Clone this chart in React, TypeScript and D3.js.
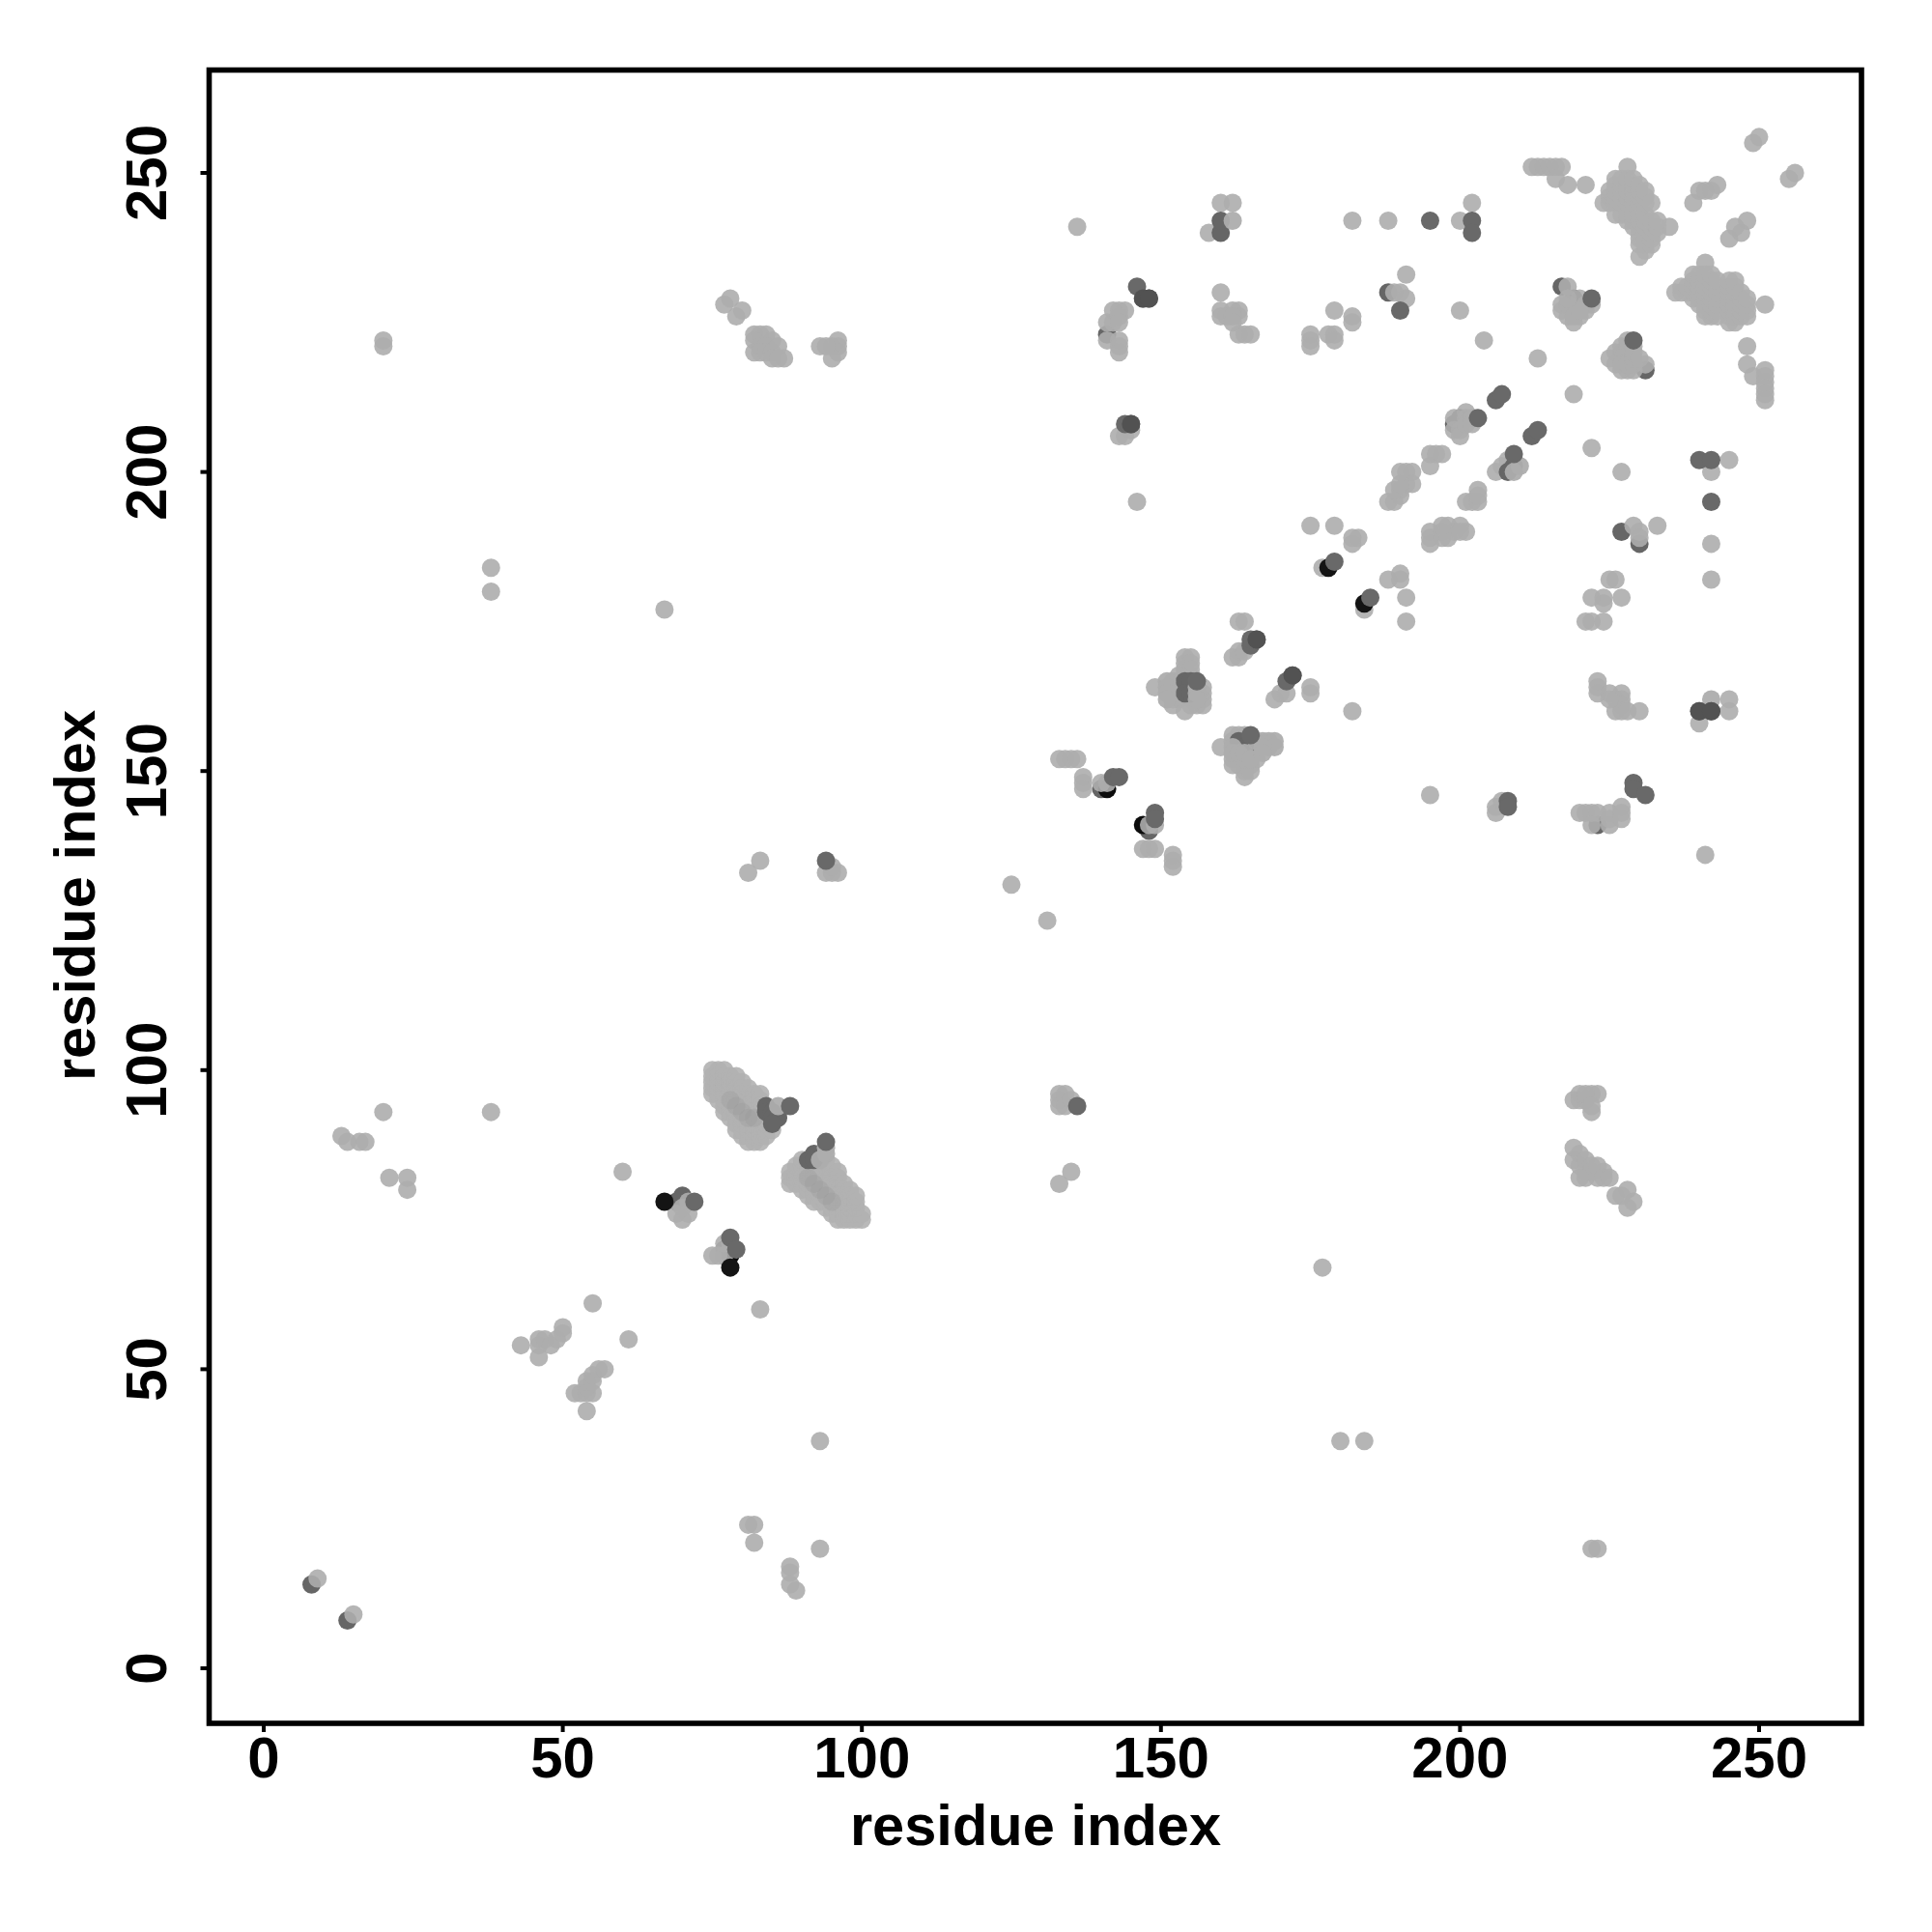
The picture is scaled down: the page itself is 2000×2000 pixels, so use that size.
import React from "react";
import * as d3 from "d3";

const xTicks = [0, 50, 100, 150, 200, 250];
const yTicks = [0, 50, 100, 150, 200, 250];
const axisLabel = "residue index";

type P = [number, number];
type Run = [number, number[]];

// contacts drawn first, partly covered by the lighter ones
const underContacts: P[] = [[8,14],[14,8],[69,78],[70,79],[78,70],[77,70],[140,147],[148,140],[217,231],[219,229],[141,223],[188,230],[227,190],[230,188],[223,141],[228,219],[231,217],[199,208],[200,209],[163,154]];
const blackUnder: P[] = [[78,69],[141,147],[147,141]];

const lightContacts: P[] = [
[9,15],[15,9],[13,89],[14,88],[16,88],[17,88],[20,93],[21,82],[24,82],[24,80],[20,221],[20,222],[38,93],[38,180],[38,184],
[43,54],[46,54],[46,55],[47,55],[46,52],[48,54],[49,55],[50,56],[50,57],[52,46],[53,46],[54,46],[55,46],[54,47],[54,48],[55,48],[55,49],[56,50],[57,50],[54,43],[55,61],[61,55],[60,83],[67,177],[83,60],
[69,76],[70,75],[71,76],[70,77],[71,78],[75,69],[76,69],[77,69],[78,71],[77,71],
[81,24],[82,24],[82,21],[88,17],[88,16],[88,14],[89,13],[93,20],[93,38],[81,133],[83,135],[94,133],[95,133],[96,133],[95,134],
[77,228],[78,229],[79,226],[80,227],[82,223],[83,223],[84,223],[85,222],[82,222],[83,221],[84,221],[82,220],[83,220],[84,220],[85,220],[86,221],[85,219],[87,219],[86,219],[93,221],[95,221],[96,222],[96,221],[96,220],[95,219],[94,221],
[125,131],[131,125],[133,81],[135,83],[133,96],[133,95],[133,94],[134,96],[134,94],[135,95],[136,241],
[133,152],[134,152],[135,152],[136,152],[137,149],[137,148],[137,147],[140,148],[141,148],[148,141],[149,141],[147,137],[148,137],[149,137],[152,134],[152,135],[152,136],
[154,169],[155,169],[154,168],[155,168],[149,164],[152,165],[152,164],[152,163],[153,165],[153,164],[153,163],[152,162],[152,161],[153,162],[155,162],[157,162],[156,161],[157,161],[157,163],[157,164],[154,166],[155,166],[154,167],[155,167],[153,166],[154,160],[155,161],
[163,175],[164,175],[162,169],[163,170],[163,169],[164,170],[169,162],[170,163],[171,163],[175,163],[175,164],[182,160],
[160,154],[162,156],[163,156],[164,156],[162,155],[164,149],[162,152],[163,151],[163,152],[164,151],[165,151],[166,152],[164,150],[165,150],[162,151],[164,152],
[177,67],[180,38],[184,38],[195,146],[206,143],[206,144],[207,145],[220,143],[221,143],[222,143],[223,143],[222,141],[225,141],[225,143],[225,142],[227,144],[227,143],[227,142],[241,136],[222,20],[223,20],
[219,95],[220,95],[221,95],[222,96],[223,96],[220,96],[221,96],[222,93],[222,94],[219,87],[219,85],[220,86],[220,84],[221,85],[221,83],[222,84],[221,82],[223,82],[224,83],[222,83],[223,84],[224,82],[225,82],[220,82],[226,79],[228,80],[228,77],[229,78],[227,79],
[223,165],[223,164],[223,163],[225,163],[226,162],[227,163],[227,162],[227,161],[226,160],[227,160],[228,160],[230,160],[225,162],[240,158],[245,162],[245,160],
[242,182],[242,188],[242,200],[245,202],[233,191],[229,191],[230,190],[230,189],[227,200],[222,204],[219,213],[213,219],[204,222],[200,227],[225,182],[226,182],[227,179],[222,179],[224,179],[224,178],[221,175],[222,175],[224,175],
[175,191],[179,191],[182,188],[183,189],[182,189],[177,184],[184,177],[190,183],[190,182],[188,182],[191,179],[191,175],
[195,190],[195,189],[195,188],[197,189],[197,190],[198,191],[199,190],[198,189],[200,191],[201,190],[200,190],[197,191],[201,195],[202,195],[203,197],[203,195],[203,196],[195,201],[195,203],[196,203],[197,203],
[188,195],[189,195],[190,197],[190,196],[189,197],[191,198],[191,200],[192,200],[192,198],[190,198],[190,200],[199,209],[199,207],[200,207],[200,206],[201,210],[201,209],[201,208],[202,209],[202,208],[206,200],[207,201],[208,202],
[212,251],[213,251],[214,251],[215,251],[216,251],[217,251],[216,249],[218,248],[221,248],[228,251],[239,245],[240,247],[241,247],[242,247],[243,248],[245,239],[247,240],[248,242],[246,241],[249,255],[250,256],[255,249],[256,250],[235,241],
[241,235],[251,228],[248,221],[248,218],[249,216],[251,217],[251,216],[251,215],[251,214],[251,213],[251,212],
[218,231],[220,229],[219,225],[220,226],[221,227],[221,228],[222,228],[218,226],[217,227],[217,228],[218,228],[219,227],[219,226],[220,227],[218,229],
[225,219],[227,220],[231,218],[227,217],[228,217],[229,217],[226,220],[227,221],[228,221],[228,222],[227,219],[226,218],[227,218],[228,218],[229,218],[229,219],[229,220],[229,221],[230,219],
[188,242],[182,242],[200,242],[202,245],[160,245],[162,245],[158,240],[191,233],[189,230],[190,230],[191,229],[160,230],[160,227],[160,226],[162,227],[163,227],[163,226],[161,226],[162,226],[162,225],[163,223],[164,223],[165,223],
[175,223],[175,222],[175,221],[178,223],[179,223],[179,222],[182,226],[182,225],[179,227],[141,225],[141,222],[142,227],[143,227],[144,227],[142,225],[143,226],[143,225],[143,222],[143,221],[143,220],[143,206],[144,206],[145,207],[146,195],
];

// dense blocks of contacts: [column, rows]
const bandA: Run[] = [
[75,[96,97,98,99,100]],[76,[95,96,97,98,99,100]],[77,[93,94,95,96,97,98,99,100]],[78,[92,93,94,95,96,97,98,99]],[79,[90,91,92,93,94,95,96,97,98,99]],[80,[89,90,91,92,93,94,95,96,97,98]],[81,[88,89,90,91,92,93,94,95,96,97]],[82,[88,89,90,91,92,93,94,95,96]],[83,[88,89,90,91,92,93,94,95,96]],[84,[89,90,91,92]],[85,[90]],
];
const bandB: Run[] = [
[88,[81,82,83]],[89,[81,82,83,84]],[90,[80,81,82,83,84,85]],[91,[79,80,81,82,83,84]],[92,[78,79,80,81,82,83,84]],[93,[78,79,80,81,82,83,84]],[94,[77,78,79,80,81,82,83,84,85]],[95,[76,77,78,79,80,81,82,83,84]],[96,[75,76,77,78,79,80,81,82,83]],[97,[75,76,77,78,79,80,81]],[98,[75,76,77,78,79,80]],[99,[75,76,77,78,79]],[100,[75,76]],
];
const bandCore: P[] = [[78,95],[79,94],[80,93],[81,92],[82,92],[91,82],[92,81],[93,80],[94,79],[95,78]];
const crossA: Run[] = [
[224,[245]],[225,[245,246,247]],[226,[243,245,246,247,248,249]],[227,[243,245,246,247,248,249]],[228,[242,243,245,246,247,248,249]],[229,[241,242,243,245,246,247,248,249]],[230,[239,238,236,240,241,242,243,245,246,247,248]],[231,[237,238,239,240,241,242,243,245,246,247]],[232,[238,239,240,241,242,245]],[233,[240,241,242]],
];
const crossB: Run[] = [
[236,[230]],[237,[230,231]],[238,[230,231]],[239,[229,230,231,232,233]],[240,[228,229,230,231,232,233]],[241,[226,227,228,229,230,231,232,233]],[242,[226,227,228,229,230,231,232,233]],[243,[226,227,228,229,230,231,232]],[245,[225,226,227,228,229,230,231,232]],[246,[225,226,227,228,229,230,231,232]],[247,[226,227,228,229,230]],[248,[226,227,228,229]],
];

// darker contacts lying on the blocks, then the light ones that cover them
const midOver: P[] = [[84,94],[84,93],[85,93],[85,92],[86,92],[85,91],[91,85],[92,86],[92,85],[154,165],[155,165],[154,163],[155,163],[163,155],[164,154],[165,154],[166,154],[209,201],[208,200],[160,240],[160,242]];
const lightOver: P[] = [[86,94],[94,87],[94,86],[93,85],[151,165],[151,164],[151,163],[151,162],[156,164],[156,163],[156,162],[162,154],[162,153],[163,153],[164,153],[165,152],[166,155],[167,155],[168,155],[169,155],[168,154],[169,154],[167,154],[167,153],[210,201],[209,200],[162,242],[242,162]];

// contacts drawn last, above everything else
const blackTop: P[] = [[67,78],[78,67],[178,184],[184,178]];
const topContacts: P[] = [[72,78],[78,72],[79,70],[88,94],[94,88],[94,135],[136,94],[142,149],[143,149],[149,143],[149,142],[156,165],[165,156],[165,171],[165,172],[166,172],[171,165],[172,166],[144,208],[145,208],[146,231],[147,229],[148,229],[195,242],[202,242],[202,240],[190,227],[229,222],[222,229],[203,209],[206,212],[207,213],[212,206],[213,207],[209,203],[240,160],[242,160],[240,202],[242,202],[242,195],[179,185],[185,179],[208,145],[208,144],[229,148],[229,147],[231,146]];
const deepContacts: P[] = [[172,166],[166,172],[145,208],[240,160],[242,160],[147,229],[148,229]];

const expand = (runs: Run[]): P[] => runs.flatMap(([x, ys]) => ys.map((y) => [x, y] as P));

const FONT = '"Liberation Sans", Arial, sans-serif';

export default function App() {
  const x = d3.scaleLinear().domain([0, 250]).range([273, 1821]);
  const y = d3.scaleLinear().domain([0, 250]).range([1727, 179]);
  const frame = { l: 216.5, r: 1927, t: 72.5, b: 1784 };
  const r = 9.5;
  const dots = (pts: P[], fill: string, op: number, key: string) =>
    pts.map((p, i) => (
      <circle key={key + i} cx={x(p[0])} cy={y(p[1])} r={r} fill={fill} fillOpacity={op} />
    ));
  return (
    <svg width={2000} height={2000} style={{ position: "absolute", left: 0, top: 0, background: "#fff" }} fontFamily={FONT} fontWeight="bold">
      {dots(underContacts, "#666", 1, "u")}
      {dots(blackUnder, "#0c0c0c", 1, "k")}
      {dots(lightContacts, "#adadad", 0.9, "l")}
      {dots(expand(bandA), "#b1b1b1", 0.9, "a")}
      {dots(expand(bandB), "#b1b1b1", 0.9, "b")}
      {dots(bandCore, "#989898", 0.3, "r")}
      {dots(expand(crossA), "#afafaf", 0.9, "c")}
      {dots(expand(crossB), "#afafaf", 0.9, "d")}
      {dots(midOver, "#666", 1, "m")}
      {dots(lightOver, "#adadad", 0.95, "o")}
      {dots(blackTop, "#141414", 1, "x")}
      {dots(topContacts, "#696969", 1, "t")}
      {dots(deepContacts, "#525252", 1, "e")}
      <rect x={frame.l} y={frame.t} width={frame.r - frame.l} height={frame.b - frame.t} fill="none" stroke="#000" strokeWidth={5.6} />
      {xTicks.map((t) => (
        <g key={t}>
          <line x1={x(t)} x2={x(t)} y1={frame.b} y2={frame.b + 9} stroke="#000" strokeWidth={4} />
          <text x={x(t)} y={1840} textAnchor="middle" fontSize={60}>{t}</text>
        </g>
      ))}
      {yTicks.map((t) => (
        <g key={t}>
          <line x1={frame.l - 9} x2={frame.l} y1={y(t)} y2={y(t)} stroke="#000" strokeWidth={4} />
          <text transform={`translate(171.5,${y(t)}) rotate(-90)`} textAnchor="middle" fontSize={60}>{t}</text>
        </g>
      ))}
      <text x={1072} y={1910} textAnchor="middle" fontSize={59.6}>{axisLabel}</text>
      <text transform={`translate(98,927) rotate(-90)`} textAnchor="middle" fontSize={59.6}>{axisLabel}</text>
    </svg>
  );
}
